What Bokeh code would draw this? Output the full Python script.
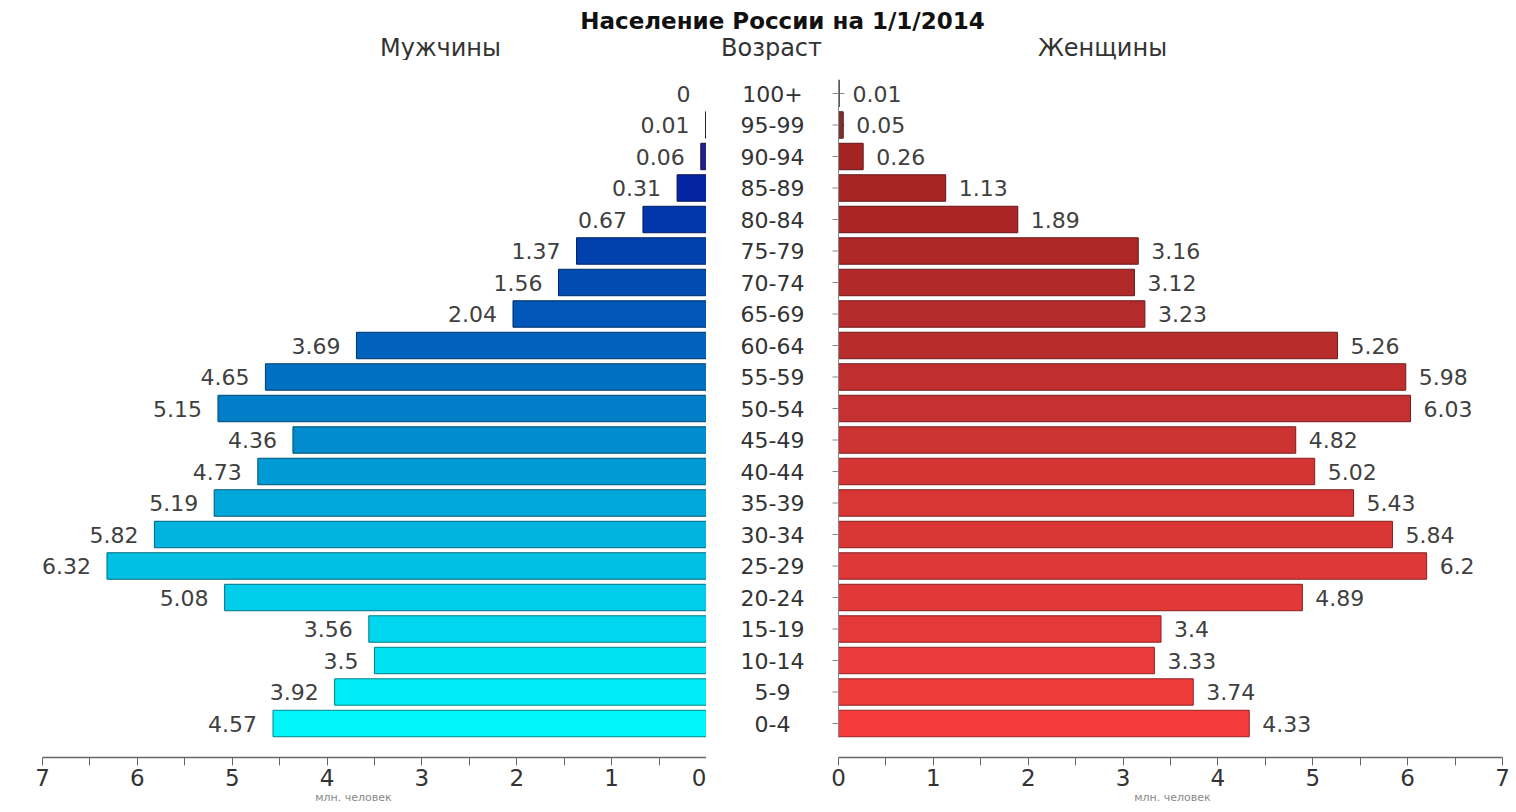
from bokeh.plotting import figure
from bokeh.models import Range1d, FixedTicker, ColumnDataSource, Label, LinearAxis
from bokeh.layouts import column, row
from bokeh.embed import file_html
from bokeh.resources import INLINE
from bokeh.core.properties import value

# ---------------- data ----------------
AGES = ["0-4", "5-9", "10-14", "15-19", "20-24", "25-29", "30-34", "35-39",
        "40-44", "45-49", "50-54", "55-59", "60-64", "65-69", "70-74", "75-79",
        "80-84", "85-89", "90-94", "95-99", "100+"]
MEN = [4.57, 3.92, 3.5, 3.56, 5.08, 6.32, 5.82, 5.19, 4.73, 4.36, 5.15, 4.65,
       3.69, 2.04, 1.56, 1.37, 0.67, 0.31, 0.06, 0.01, 0]
WOMEN = [4.33, 3.74, 3.33, 3.4, 4.89, 6.2, 5.84, 5.43, 5.02, 4.82, 6.03, 5.98,
         5.26, 3.23, 3.12, 3.16, 1.89, 1.13, 0.26, 0.05, 0.01]
AXIS_TICKS = [0, 1, 2, 3, 4, 5, 6, 7]
MINOR_TICKS = [0.5, 1.5, 2.5, 3.5, 4.5, 5.5, 6.5]
TITLE = "Население России на 1/1/2014"
HEADERS = ["Мужчины", "Возраст", "Женщины"]
AXIS_TITLE = "млн. человек"

# ---------------- styling ----------------
FONT = "DejaVu Sans"
MEN_ANCHORS = [(0, "#00F6FA"), (4, "#00CDEA"), (8, "#009AD4"), (12, "#0062BC"),
               (16, "#0036AA"), (17, "#0524A2"), (18, "#22228C"), (19, "#333355"),
               (20, "#999999")]
WOMEN_ANCHORS = [(0, "#F43C3C"), (4, "#E23838"), (8, "#D43434"), (12, "#B92C2C"),
                 (16, "#AA2626"), (18, "#A42424"), (19, "#803030"), (20, "#888888")]


def _rgb(h):
    h = h.lstrip("#")
    return [int(h[i:i + 2], 16) for i in (0, 2, 4)]


def gradient(anchors, n):
    out = []
    for i in range(n):
        for (i0, c0), (i1, c1) in zip(anchors[:-1], anchors[1:]):
            if i0 <= i <= i1:
                t = 0 if i1 == i0 else (i - i0) / (i1 - i0)
                a, b = _rgb(c0), _rgb(c1)
                out.append("#%02x%02x%02x" % tuple(int(round(a[k] + (b[k] - a[k]) * t)) for k in range(3)))
                break
    return out


def darker(cols, f=0.6):
    return ["#%02x%02x%02x" % tuple(int(v * f) for v in _rgb(c)) for c in cols]


n = len(AGES)
idx = list(range(n))
men_fill = gradient(MEN_ANCHORS, n)
women_fill = gradient(WOMEN_ANCHORS, n)

U = 94.86          # px per million
LEFT_W, MID_W, RIGHT_W = 706, 122, 688
HEADER_H = 60
FRAME_H = 697
BOTTOM = 53
ROW = 31.5
y_top = (n - 1) + (93 - HEADER_H) / ROW
y_bot = -(HEADER_H + FRAME_H - 723) / ROW
y_range = Range1d(y_bot, y_top)

src = ColumnDataSource(dict(
    y=idx, age=AGES, men=MEN, women=WOMEN,
    men_lbl=[f"{v:g}" for v in MEN], women_lbl=[f"{v:g}" for v in WOMEN],
    men_fill=men_fill, men_line=darker(men_fill, 0.55),
    women_fill=women_fill, women_line=darker(women_fill, 0.6),
    zero=[0] * n,
))


def base_fig(width, x_range, with_axis=True):
    p = figure(width=width, height=FRAME_H + BOTTOM, x_range=x_range, y_range=y_range,
               toolbar_location=None, output_backend="svg",
               x_axis_location="below" if with_axis else None, y_axis_location=None,
               min_border_left=0, min_border_right=0, min_border_top=0,
               min_border_bottom=BOTTOM)
    p.outline_line_color = None
    p.grid.visible = False
    p.background_fill_color = "white"
    p.border_fill_color = "white"
    if not with_axis:
        return p
    ax = p.xaxis[0]
    ax.ticker = FixedTicker(ticks=AXIS_TICKS, minor_ticks=MINOR_TICKS)
    ax.bounds = (0, 7)
    ax.major_tick_in = 0
    ax.major_tick_out = 8
    ax.minor_tick_in = 0
    ax.minor_tick_out = 8
    ax.axis_line_color = "#666666"
    ax.axis_line_width = 1.5
    ax.major_tick_line_color = "#666666"
    ax.minor_tick_line_color = "#666666"
    ax.major_label_text_font = FONT
    ax.major_label_text_font_size = "23px"
    ax.major_label_text_color = "#333333"
    ax.major_label_standoff = 3
    ax.axis_label = AXIS_TITLE
    ax.axis_label_text_font = FONT
    ax.axis_label_text_font_size = "11px"
    ax.axis_label_text_font_style = "normal"
    ax.axis_label_text_color = "#888888"
    ax.axis_label_standoff = 2
    return p


# Left: men (reversed axis)
left = base_fig(LEFT_W, Range1d(LEFT_W / U, 0))
left.hbar(y="y", left="zero", right="men", height=0.84, source=src,
          fill_color="men_fill", line_color="men_line", line_width=1)
left.text(x="men", y="y", text="men_lbl", source=src, x_offset=-16,
          text_align="right", text_baseline="middle",
          text_font=value(FONT), text_font_size="22px", text_color="#404040")

# Middle: age labels
mid = base_fig(MID_W, Range1d(0, MID_W), with_axis=False)
mid.text(x=66, y="y", text="age", source=src, text_align="center",
         text_baseline="middle", text_font=value(FONT), text_font_size="22px",
         text_color="#333333")

# Right: women
right = base_fig(RIGHT_W, Range1d(-10 / U, (RIGHT_W - 10) / U))
yax = LinearAxis(fixed_location=0, ticker=FixedTicker(ticks=[]),
                 axis_line_color="#888888", bounds=(-0.45, n - 1 + 0.45))
right.add_layout(yax, "left")
right.scatter(x="zero", y="y", source=src, marker="dash", size=12,
              line_color="#888888", line_width=1)
right.hbar(y="y", left="zero", right="women", height=0.84, source=src,
           fill_color="women_fill", line_color="women_line", line_width=1)
right.text(x="women", y="y", text="women_lbl", source=src, x_offset=13,
           text_align="left", text_baseline="middle",
           text_font=value(FONT), text_font_size="22px", text_color="#404040")

# Header strip: title and column headers
TOTAL_W = LEFT_W + MID_W + RIGHT_W
head = figure(width=TOTAL_W, height=HEADER_H, x_range=Range1d(0, TOTAL_W),
              y_range=Range1d(HEADER_H, 0), toolbar_location=None,
              output_backend="svg", x_axis_location=None, y_axis_location=None,
              min_border=0)
head.outline_line_color = None
head.grid.visible = False
head.add_layout(Label(x=782, y=20, text=TITLE, text_align="center",
                      text_baseline="middle", text_font=FONT,
                      text_font_size="23px", text_font_style="bold",
                      text_color="#111111"))
for txt, cx in zip(HEADERS, [440, 771, 1102]):
    head.add_layout(Label(x=cx, y=47, text=txt, text_align="center",
                          text_baseline="middle", text_font=FONT,
                          text_font_size="24px", text_color="#333333"))

layout = column(head, row(left, mid, right, spacing=0), spacing=0)
open("out.html", "w").write(file_html(layout, INLINE))
